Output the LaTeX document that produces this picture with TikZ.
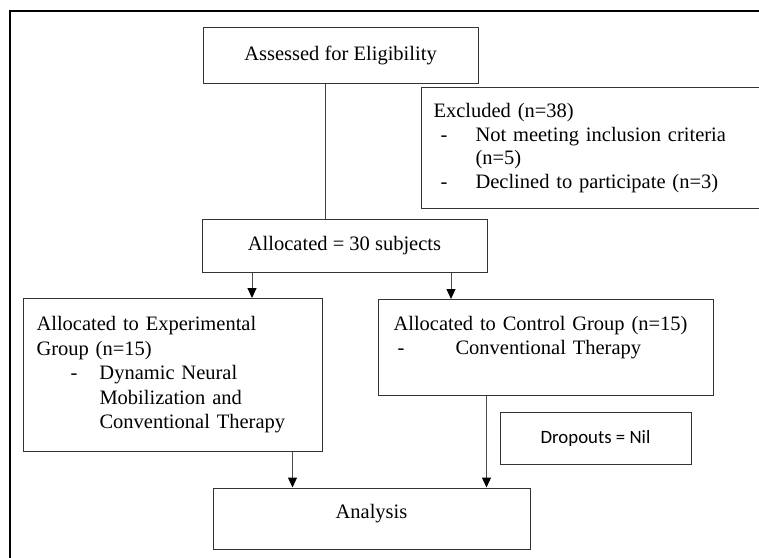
\documentclass[tikz,border=0pt]{standalone}
\usepackage{fontspec}
\setmainfont{Liberation Serif}
\newfontfamily\calibrifont{Carlito}
\usetikzlibrary{arrows.meta}
\begin{document}
\begin{tikzpicture}[x=1pt,y=-1pt,
	box/.style={draw=black!80,line width=1pt,rectangle,inner sep=0pt,
		font=\fontsize{20.5}{24.5}\selectfont},
	txtbox/.style={box,anchor=north west,align=left},
	arr/.style={draw=black!70,line width=1pt,-{Triangle[width=9pt,length=10pt,color=black]}},
	lin/.style={draw=black!75,line width=1pt}]
	\useasboundingbox (0,0) rectangle (759,557);
	\clip (0,0) rectangle (759,557);
	\draw[line width=1.2pt] (10,570) |- (770,11);

	\node[box,minimum width=275,minimum height=56] (assess) at (340.5,55) {Assessed for Eligibility};
	\node[txtbox,minimum width=360,minimum height=121,inner xsep=12pt,text width=336,
		font=\fontsize{20.5}{23.5}\selectfont] (excl) at (421,87)
		{Excluded (n=38)\\
		\hspace*{7pt}\makebox[35pt][l]{-}Not meeting inclusion criteria\\
		\hspace*{42pt}(n=5)\\
		\hspace*{7pt}\makebox[35pt][l]{-}Declined to participate (n=3)};
	\node[box,minimum width=285,minimum height=53] (alloc) at (344.5,245.5) {Allocated = 30 subjects};
	\node[txtbox,minimum width=299,minimum height=153,inner xsep=13pt,text width=273] (exp) at (23,298)
		{Allocated to Experimental\\
		Group (n=15)\\
		\hspace*{34pt}\makebox[29pt][l]{-}Dynamic Neural\\
		\hspace*{63pt}Mobilization and\\
		\hspace*{63pt}Conventional Therapy};
	\node[txtbox,minimum width=335,minimum height=96,inner xsep=15pt,text width=305] (ctrl) at (378,299)
		{Allocated to Control Group (n=15)\\
		\hspace*{4pt}\makebox[58pt][l]{-}Conventional Therapy\\
		\mbox{}};
	\node[box,minimum width=191,minimum height=52,font=\calibrifont\fontsize{18.8}{22}\selectfont] (drop) at (595.5,438) {Dropouts = Nil};
	\node[box,minimum width=317,minimum height=61,text depth=14pt] (analysis) at (371.5,518.5) {Analysis};

	\draw[lin] ([xshift=-15.5pt]assess.south) -- ([xshift=-15.5pt]assess.south |- alloc.north);
	\draw[arr] ([xshift=-92.5pt]alloc.south) -- ([xshift=-92.5pt]alloc.south |- exp.north);
	\draw[arr] ([xshift=106.5pt]alloc.south) -- ([xshift=106.5pt]alloc.south |- ctrl.north);
	\draw[arr] ([xshift=119.5pt]exp.south) -- ([xshift=119.5pt]exp.south |- analysis.north);
	\draw[arr] ([xshift=-59.5pt]ctrl.south) -- ([xshift=-59.5pt]ctrl.south |- analysis.north);
\end{tikzpicture}
\end{document}
